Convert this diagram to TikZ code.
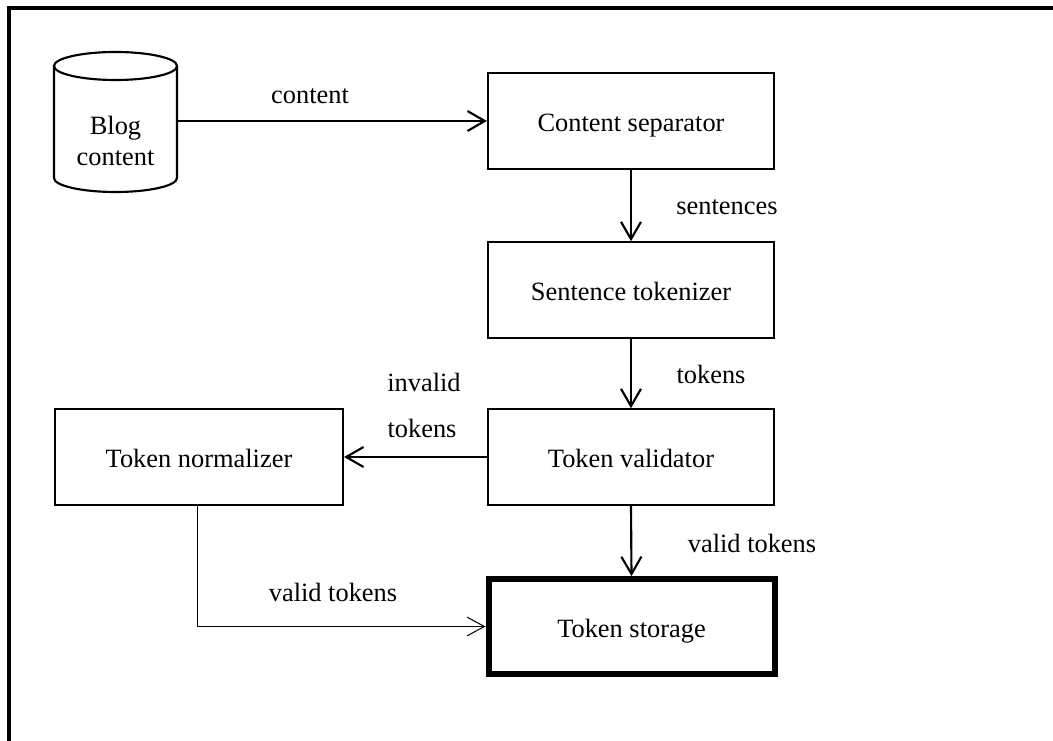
\documentclass[tikz,border=0pt]{standalone}
\usepackage{fontspec}
\setmainfont{Liberation Serif}
\usetikzlibrary{arrows.meta}
\begin{document}
\begin{tikzpicture}[x=0.75pt,y=-0.75pt,
  every node/.style={font=\fontsize{19.8pt}{23.5pt}\selectfont, inner sep=0pt},
  stage/.style={draw, line width=1.6pt, minimum width=214.5pt, minimum height=71.5pt,
    fill=white, text height=15.8pt, text depth=0pt},
  sink/.style={stage, line width=4.5pt},
  flow/.style={line width=1.6pt, -{Straight Barb[length=13pt,width=15pt,line width=1.6pt]}},
  thinflow/.style={line width=0.75pt, -{Straight Barb[length=13pt,width=14pt,line width=0.75pt]}},
  tag/.style={anchor=center}]

\useasboundingbox (0,0) rectangle (1053,741);

% frame
\draw[line width=2.4pt] (9,741) -- (9,8) -- (1053,8);

% data source drum
\draw[line width=1.6pt, fill=white]
  (54,66) -- (54,178) arc[start angle=180, end angle=0, x radius=61.5, y radius=14]
  -- (177,66);
\draw[line width=1.6pt, fill=white] (115.5,66) ellipse [x radius=61.5, y radius=14];
\node[minimum width=92.25pt, align=center] (blog) at (115.5,141) {Blog\\content};

% processing stages
\node[stage] (sep) at (631,121) {Content separator};
\node[stage] (tok) at (631,290) {Sentence tokenizer};
\node[stage] (val) at (631,457) {Token validator};
\node[stage, minimum width=216pt] (norm) at (199,457) {Token normalizer};
\node[sink, minimum height=71pt] (store) at (631.5,626.5) {Token storage};

% connectors
\draw[flow] (blog.east |- sep.west) -- (sep.west);
\draw[flow] (sep.south) -- (tok.north);
\draw[flow] (tok.south) -- (val.north);
\draw[flow] (val.west) -- (norm.east);
\draw[flow] (val.south) -- (store.north);
\draw[thinflow] ([xshift=-1.5pt]norm.south) |- (store.west);

% connector labels
\node[tag] (lcontent) at (310,96) {content};
\node[tag] (lsent) at (727,207) {sentences};
\node[tag] (ltok) at (711,374) {tokens};
\node[tag] (linv1) at (424,382) {invalid};
\node[tag] (linv2) at (422,428) {tokens};
\node[tag] (lval1) at (752,543) {valid tokens};
\node[tag] (lval2) at (333,592) {valid tokens};
\end{tikzpicture}
\end{document}
